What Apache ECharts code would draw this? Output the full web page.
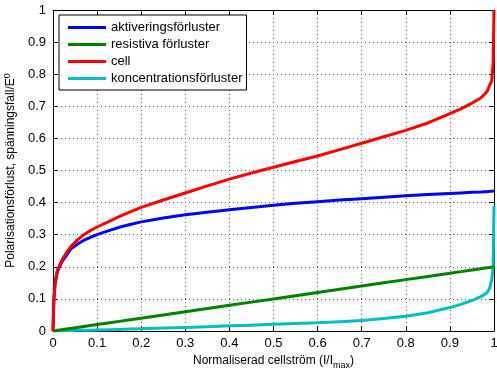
<!DOCTYPE html>
<html>
<head>
<meta charset="utf-8">
<script src="https://cdn.jsdelivr.net/npm/echarts@6/dist/echarts.min.js"></script>
<style>html,body{margin:0;padding:0;background:#fff;}#c{width:497px;height:368px;}</style>
</head>
<body>
<div id="c"></div>
<script>
// Normalised current (x) sample points
var xVals = [0, 0.002, 0.005, 0.01, 0.02, 0.03, 0.04, 0.055, 0.07, 0.085, 0.1, 0.125, 0.15, 0.175, 0.2, 0.25, 0.3, 0.35, 0.4, 0.45, 0.5, 0.55, 0.6, 0.65, 0.7, 0.75, 0.8, 0.85, 0.9, 0.925, 0.95, 0.97, 0.98, 0.985, 0.99, 0.995, 0.998, 1.0];
// aktiveringsförluster (blue)
var aktivering = [0, 0.10, 0.15, 0.185, 0.215, 0.235, 0.255, 0.27, 0.283, 0.292, 0.30, 0.312, 0.323, 0.332, 0.34, 0.352, 0.362, 0.37, 0.378, 0.385, 0.392, 0.398, 0.403, 0.408, 0.412, 0.417, 0.421, 0.425, 0.428, 0.43, 0.432, 0.433, 0.434, 0.434, 0.435, 0.435, 0.435, 0.436];
// resistiva förluster (green)
var resistiva = [0, 0.0004, 0.001, 0.002, 0.004, 0.006, 0.008, 0.011, 0.014, 0.017, 0.02, 0.025, 0.03, 0.035, 0.04, 0.05, 0.06, 0.07, 0.08, 0.09, 0.10, 0.11, 0.12, 0.13, 0.14, 0.15, 0.16, 0.17, 0.18, 0.185, 0.19, 0.194, 0.196, 0.197, 0.198, 0.199, 0.1996, 0.2];
// cell (red)
var cell = [0, 0.10, 0.155, 0.19, 0.22, 0.243, 0.262, 0.283, 0.30, 0.313, 0.324, 0.34, 0.356, 0.371, 0.385, 0.408, 0.43, 0.452, 0.473, 0.492, 0.51, 0.528, 0.545, 0.565, 0.585, 0.605, 0.625, 0.648, 0.677, 0.692, 0.71, 0.726, 0.739, 0.748, 0.765, 0.78, 0.835, 1.0];
// koncentrationsförluster (cyan)
var koncentration = [0, 0, 0, 0.0005, 0.001, 0.001, 0.0015, 0.002, 0.002, 0.0025, 0.003, 0.004, 0.005, 0.006, 0.007, 0.009, 0.011, 0.013, 0.016, 0.018, 0.021, 0.023, 0.026, 0.029, 0.033, 0.039, 0.046, 0.057, 0.073, 0.083, 0.095, 0.107, 0.115, 0.121, 0.133, 0.16, 0.2, 0.39];

var seriesNames = ['aktiveringsförluster', 'resistiva förluster', 'cell', 'koncentrationsförluster'];
var seriesData = [aktivering, resistiva, cell, koncentration];
var colors = ['#0000ff', '#008000', '#ff0000', '#00bfbf'];

function pairs(arr) { return xVals.map(function (x, i) { return [x, arr[i]]; }); }

var font = 'Liberation Sans, Arial, Helvetica, sans-serif';
var chart = echarts.init(document.getElementById('c'));
var axisCommon = {
  type: 'value', min: 0, max: 1, interval: 0.1,
  axisLine: { show: true, onZero: false, lineStyle: { color: '#000', width: 1 } },
  axisTick: { show: true, inside: true, length: 5, lineStyle: { color: '#000' } },
  splitLine: { show: false }
};
chart.setOption({
  animation: false,
  backgroundColor: '#fff',
  grid: { left: 53, right: 3, top: 10, bottom: 37, containLabel: false, outerBoundsMode: 'none' },
  legend: {
    left: 59, top: 15, orient: 'vertical',
    backgroundColor: '#fff', borderColor: '#000', borderWidth: 1,
    padding: [6, 4, 5, 9], itemGap: 4, itemWidth: 38, itemHeight: 3,
    icon: 'rect',
    textStyle: { fontFamily: font, fontSize: 13, color: '#000', lineHeight: 13, padding: [0, 0, 0, 0] },
    data: seriesNames.map(function (n, i) { return { name: n, icon: 'rect', itemStyle: { color: colors[i] } }; })
  },
  xAxis: [
    Object.assign({}, axisCommon, {
      position: 'bottom',
      axisLabel: { show: true, color: '#000', fontFamily: font, fontSize: 13, margin: 6,
        formatter: function (v) { return String(Math.round(v * 10) / 10); } },
      splitLine: { show: true, lineStyle: { color: '#555', type: [1, 3], width: 1 } },
      name: '{a|Normaliserad cellström (I/I}{s|max}{a|)}',
      nameLocation: 'middle', nameGap: 19,
      nameTextStyle: { color: '#000', fontFamily: font, fontSize: 12,
        rich: { a: { fontFamily: font, fontSize: 12, color: '#000' },
                s: { fontFamily: font, fontSize: 9, color: '#000', padding: [9, 0, 0, 0] } } }
    }),
    Object.assign({}, axisCommon, { position: 'top', axisLabel: { show: false } })
  ],
  yAxis: [
    Object.assign({}, axisCommon, {
      position: 'left',
      axisLabel: { show: true, color: '#000', fontFamily: font, fontSize: 13, margin: 7,
        formatter: function (v) { return String(Math.round(v * 10) / 10); } },
      splitLine: { show: true, lineStyle: { color: '#555', type: [1, 3], width: 1 } },
      name: '{a|Polarisationsförlust, spänningsfall/E}{s|0}',
      nameLocation: 'middle', nameGap: 32, nameRotate: 90,
      nameTextStyle: { color: '#000', fontFamily: font, fontSize: 12,
        rich: { a: { fontFamily: font, fontSize: 12, color: '#000' },
                s: { fontFamily: font, fontSize: 9, color: '#000', padding: [0, 0, 7, 0] } } }
    }),
    Object.assign({}, axisCommon, { position: 'right', axisLabel: { show: false } })
  ],
  series: seriesNames.map(function (n, i) {
    return {
      name: n, type: 'line', data: pairs(seriesData[i]),
      showSymbol: false, symbol: 'none', smooth: false, clip: true,
      lineStyle: { color: colors[i], width: 3, join: 'round' }, itemStyle: { color: colors[i] },
      z: [2, 3, 4, 1][i]
    };
  })
});
</script>
</body>
</html>
